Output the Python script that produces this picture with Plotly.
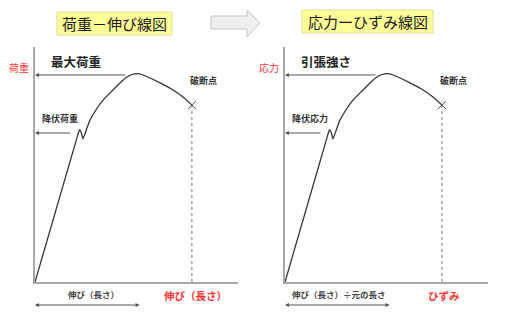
import plotly.graph_objects as go

W, H = 509, 315
FONT = "Noto Sans CJK JP"

# ---- data (illustrative curve, same shape for both panels) ----
strain = [0, 20.9, 21.9, 22.7, 23.6, 25.1, 27.1, 30.0, 33.5, 38.4, 41.9, 45.3,
          47.8, 50.2, 52.7, 56.7, 61.6, 68.0, 72.9, 77.3]
stress = [0, 62.1, 64.7, 63.8, 60.9, 64.3, 68.9, 73.2, 77.4, 81.7, 84.7, 87.2,
          88.3, 88.7, 88.3, 86.8, 84.7, 81.7, 78.7, 75.3]
max_stress = 88.1
max_arrow_from = 45.3
yield_stress = 63.4
yield_arrow_from = 18.2
extension_span = 52.2

titles = ["荷重－伸び線図", "応力ーひずみ線図"]
y_labels = ["荷重", "応力"]
x_labels = ["伸び（長さ）", "ひずみ"]
x_desc = ["伸び（長さ）", "伸び（長さ）÷元の長さ"]
max_labels = ["最大荷重", "引張強さ"]
yield_labels = ["降伏荷重", "降伏応力"]
break_label = "破断点"


def px(x):
    return x / W


def py(y):
    return 1 - y / H


fig = go.Figure()
annotations = []
shapes = []
offsets = [0, 250]
title_boxes = [(57, 12, 172, 35), (302, 10, 433, 33)]

for i, off in enumerate(offsets):
    xa = "x" if i == 0 else "x2"
    ya = "y" if i == 0 else "y2"
    # curve
    fig.add_trace(go.Scatter(x=strain, y=stress, mode="lines", xaxis=xa, yaxis=ya,
                             line=dict(color="#333333", width=1.3, shape="spline",
                                       smoothing=0.5),
                             showlegend=False, hoverinfo="skip"))
    # dotted drop line from break point
    fig.add_trace(go.Scatter(x=[strain[-1], strain[-1]], y=[0, stress[-1]], mode="lines",
                             xaxis=xa, yaxis=ya,
                             line=dict(color="#777777", width=1, dash="dot"),
                             showlegend=False, hoverinfo="skip"))
    # break marker
    fig.add_trace(go.Scatter(x=[strain[-1]], y=[stress[-1]], mode="markers",
                             xaxis=xa, yaxis=ya,
                             marker=dict(symbol="x-thin", size=8,
                                         line=dict(color="#555555", width=1)),
                             showlegend=False, hoverinfo="skip"))
    # arrows: max and yield
    for yv, xs in [(max_stress, max_arrow_from), (yield_stress, yield_arrow_from)]:
        annotations.append(dict(x=0, y=yv, xref=xa, yref=ya, ax=xs, ay=yv,
                                axref=xa, ayref=ya, text="", showarrow=True,
                                arrowhead=2, arrowsize=0.8, arrowwidth=1,
                                arrowcolor="#555555"))
    # bottom double arrow
    annotations.append(dict(x=0, y=py(305), xref=xa, yref="paper", ax=extension_span,
                            ay=0, axref=xa, ayref="pixel", text="", showarrow=True,
                            arrowhead=2, startarrowhead=2, arrowside="end+start",
                            arrowsize=0.8, startarrowsize=0.8, arrowwidth=1,
                            arrowcolor="#555555"))
    # title box
    x0, y0, x1, y1 = title_boxes[i]
    shapes.append(dict(type="rect", xref="paper", yref="paper",
                       x0=px(x0), x1=px(x1), y0=py(y1), y1=py(y0),
                       fillcolor="#FFFF99", line=dict(color="#dede9a", width=1)))
    annotations.append(dict(x=px((x0 + x1) / 2), y=py((y0 + y1) / 2), xref="paper",
                            yref="paper", text=titles[i], showarrow=False,
                            font=dict(family=FONT, size=15, color="#1a1a1a"),
                            xanchor="center", yanchor="middle"))
    # labels
    lab = [
        (y_labels[i], 19 + off, 67, 10, "#ff3333", False),
        (max_labels[i], 76 + off, 62, 12.5, "#222222", True),
        (break_label, 203 + off, 81, 9, "#333333", True),
        (yield_labels[i], 60 + off, 118, 9, "#333333", True),
        (x_desc[i], (93 if i == 0 else 89) + off, 294, 8.5, "#444444", True),
        (x_labels[i], (195 if i == 0 else 194) + off, 295, 10.5, "#ff3333", True),
    ]
    for t, lx, ly, fs, col, bold in lab:
        annotations.append(dict(x=px(lx), y=py(ly), xref="paper", yref="paper",
                                text=f"<b>{t}</b>" if bold else t, showarrow=False,
                                font=dict(family=FONT, size=fs, color=col),
                                xanchor="center", yanchor="middle"))

# gray block arrow between panels
pts = [(211, 16), (247, 16), (247, 10), (260, 23), (247, 37), (247, 29), (211, 29)]
path = "M " + " L ".join(f"{px(a):.5f},{py(b):.5f}" for a, b in pts) + " Z"
shapes.append(dict(type="path", xref="paper", yref="paper", path=path,
                   fillcolor="#efefef", line=dict(color="#c4c4c4", width=1)))

axis_common = dict(showgrid=False, zeroline=False, showticklabels=False, ticks="",
                   showline=True, linecolor="#a8a8a8", linewidth=2, fixedrange=True)

fig.update_layout(
    width=W, height=H, margin=dict(l=0, r=0, t=0, b=0),
    paper_bgcolor="white", plot_bgcolor="white",
    xaxis=dict(domain=[px(35), px(238)], range=[0, 100], anchor="y", **axis_common),
    yaxis=dict(domain=[py(282), py(47)], range=[0, 100], anchor="x", **axis_common),
    xaxis2=dict(domain=[px(285), px(488)], range=[0, 100], anchor="y2", **axis_common),
    yaxis2=dict(domain=[py(282), py(47)], range=[0, 100], anchor="x2", **axis_common),
    annotations=annotations, shapes=shapes, showlegend=False,
)

fig.write_html("out.html")
